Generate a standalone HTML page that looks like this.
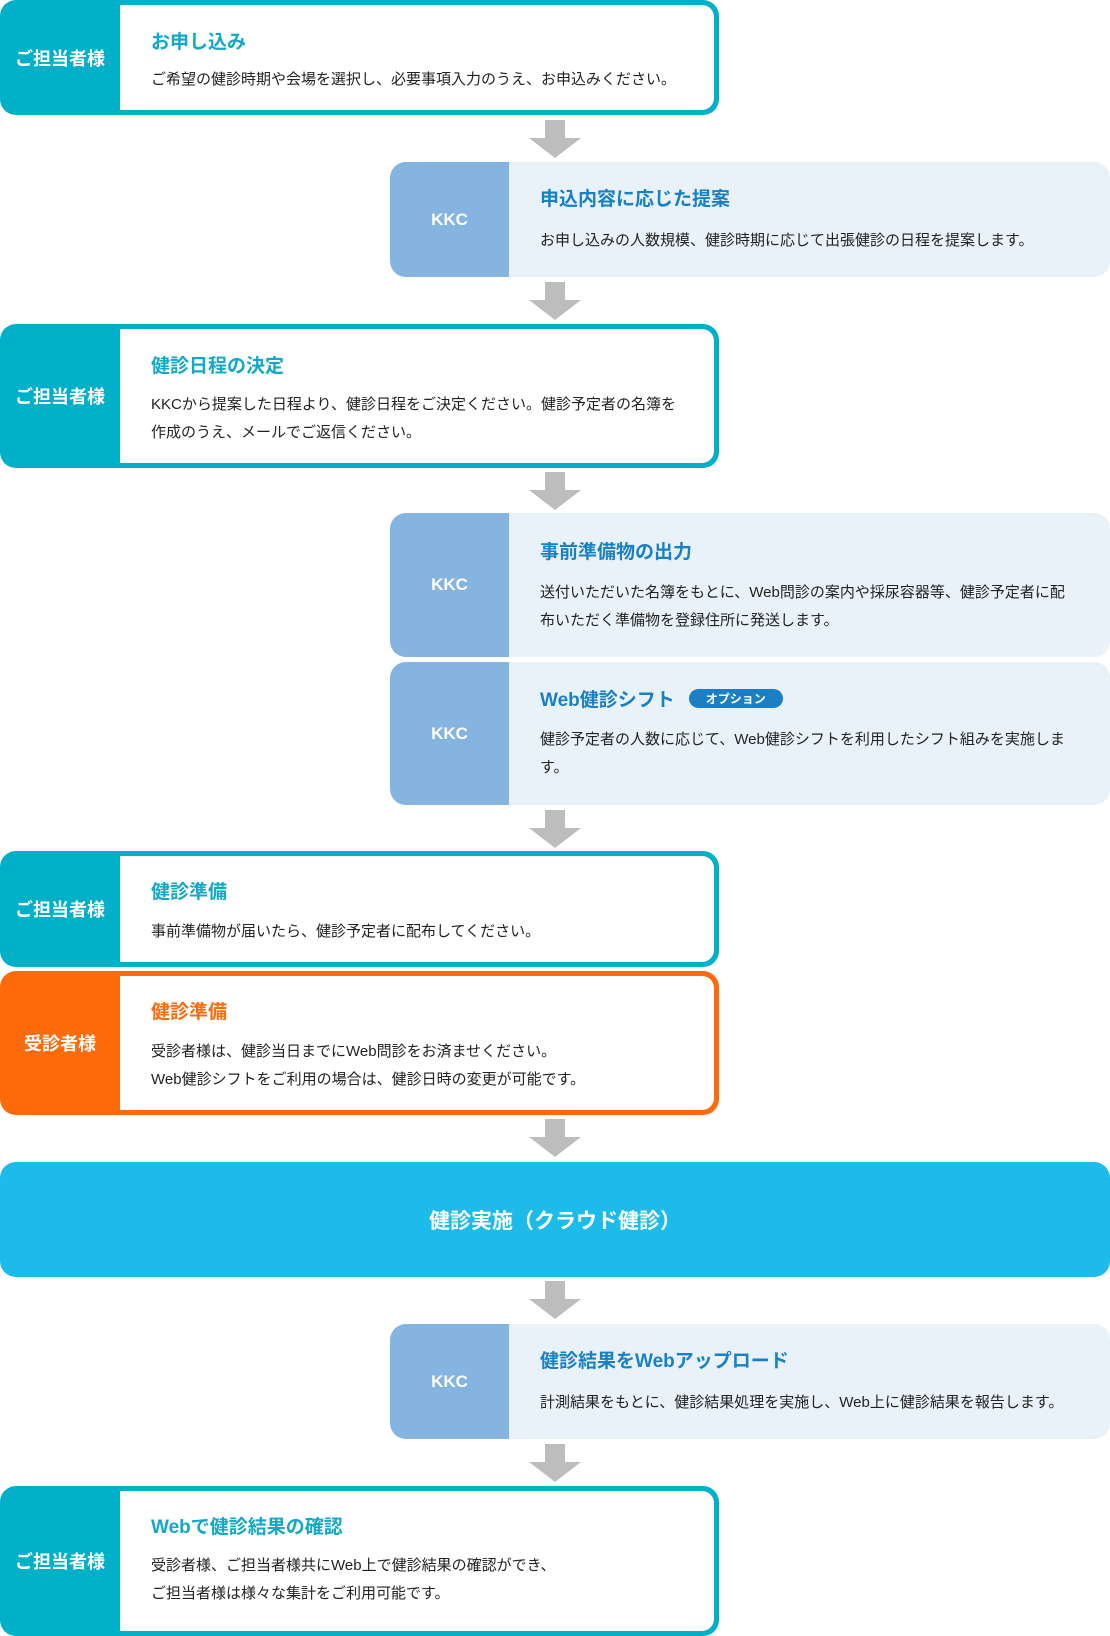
<!DOCTYPE html>
<html><head><meta charset="utf-8"><style>
*{margin:0;padding:0;box-sizing:border-box}
body{width:1110px;height:1630px;background:#fff;position:relative;font-family:"Liberation Sans","Noto Sans CJK JP",sans-serif;overflow:hidden}
.b{position:absolute;border-radius:16px;overflow:hidden}
.t{background:#00b0c8;padding:5px 5px 5px 120px}
.o{background:#ff6a0a;padding:5px 5px 5px 120px}
.t .in,.o .in{background:#fff;height:100%;border-radius:0 12px 12px 0;padding-left:31px;position:relative}
.k{background:#e8f2f8;padding-left:119px}
.k .in{height:100%;padding-left:31px;position:relative}
.lab{position:absolute;left:0;top:0;bottom:0;width:120px;display:flex;align-items:center;justify-content:center;color:#fff;font-weight:bold;font-size:18px}
.k .lab{background:#85b4e0;width:119px;font-size:17px}
.ti{position:absolute;font-weight:bold;font-size:19px;left:31px;white-space:nowrap}
.t .ti{color:#12a9c6}.o .ti{color:#ff6a0a}.k .ti{color:#1a80c4}
.tx{position:absolute;left:31px;font-size:15px;color:#222;line-height:28px;white-space:nowrap}
.ar{position:absolute;left:529px;width:52px;height:38px}
.ar:before{content:"";position:absolute;left:16px;top:0;width:20px;height:18px;background:#bdbdbd}
.ar:after{content:"";position:absolute;left:0;top:18px;border-left:26px solid transparent;border-right:26px solid transparent;border-top:20px solid #bdbdbd}
.opt{display:inline-block;background:#1a7fc4;color:#fff;font-size:12px;border-radius:12px;padding:1px 17px;margin-left:14px;vertical-align:3px}
</style></head><body>

<div class="b t" style="left:0;top:0;width:719px;height:115px"><div class="lab">ご担当者様</div><div class="in">
<div class="ti" style="top:22px">お申し込み</div>
<div class="tx" style="top:61px">ご希望の健診時期や会場を選択し、必要事項入力のうえ、お申込みください。</div></div></div>
<div class="ar" style="top:120px"></div>

<div class="b k" style="left:390px;top:162px;width:720px;height:115px"><div class="lab">KKC</div><div class="in">
<div class="ti" style="top:22px">申込内容に応じた提案</div>
<div class="tx" style="top:65px">お申し込みの人数規模、健診時期に応じて出張健診の日程を提案します。</div></div></div>
<div class="ar" style="top:282px"></div>

<div class="b t" style="left:0;top:324px;width:719px;height:144px"><div class="lab">ご担当者様</div><div class="in">
<div class="ti" style="top:22px">健診日程の決定</div>
<div class="tx" style="top:62px">KKCから提案した日程より、健診日程をご決定ください。健診予定者の名簿を<br>作成のうえ、メールでご返信ください。</div></div></div>
<div class="ar" style="top:472px"></div>

<div class="b k" style="left:390px;top:513px;width:720px;height:144px"><div class="lab">KKC</div><div class="in">
<div class="ti" style="top:24px">事前準備物の出力</div>
<div class="tx" style="top:66px">送付いただいた名簿をもとに、Web問診の案内や採尿容器等、健診予定者に配<br>布いただく準備物を登録住所に発送します。</div></div></div>

<div class="b k" style="left:390px;top:662px;width:720px;height:143px"><div class="lab">KKC</div><div class="in">
<div class="ti" style="top:23px">Web健診シフト<span class="opt">オプション</span></div>
<div class="tx" style="top:64px">健診予定者の人数に応じて、Web健診シフトを利用したシフト組みを実施しま<br>す。</div></div></div>
<div class="ar" style="top:810px"></div>

<div class="b t" style="left:0;top:851px;width:719px;height:116px"><div class="lab">ご担当者様</div><div class="in">
<div class="ti" style="top:21px">健診準備</div>
<div class="tx" style="top:62px">事前準備物が届いたら、健診予定者に配布してください。</div></div></div>

<div class="b o" style="left:0;top:971px;width:719px;height:144px"><div class="lab">受診者様</div><div class="in">
<div class="ti" style="top:21px">健診準備</div>
<div class="tx" style="top:62px">受診者様は、健診当日までにWeb問診をお済ませください。<br>Web健診シフトをご利用の場合は、健診日時の変更が可能です。</div></div></div>
<div class="ar" style="top:1119px"></div>

<div class="b" style="left:0;top:1162px;width:1110px;height:115px;background:#1cbbea;display:flex;align-items:center;justify-content:center;color:#fff;font-weight:bold;font-size:21px">健診実施（クラウド健診）</div>
<div class="ar" style="top:1281px"></div>

<div class="b k" style="left:390px;top:1324px;width:720px;height:115px"><div class="lab">KKC</div><div class="in">
<div class="ti" style="top:22px">健診結果をWebアップロード</div>
<div class="tx" style="top:65px">計測結果をもとに、健診結果処理を実施し、Web上に健診結果を報告します。</div></div></div>
<div class="ar" style="top:1444px"></div>

<div class="b t" style="left:0;top:1486px;width:719px;height:150px"><div class="lab">ご担当者様</div><div class="in">
<div class="ti" style="top:21px">Webで健診結果の確認</div>
<div class="tx" style="top:61px">受診者様、ご担当者様共にWeb上で健診結果の確認ができ、<br>ご担当者様は様々な集計をご利用可能です。</div></div></div>

</body></html>
